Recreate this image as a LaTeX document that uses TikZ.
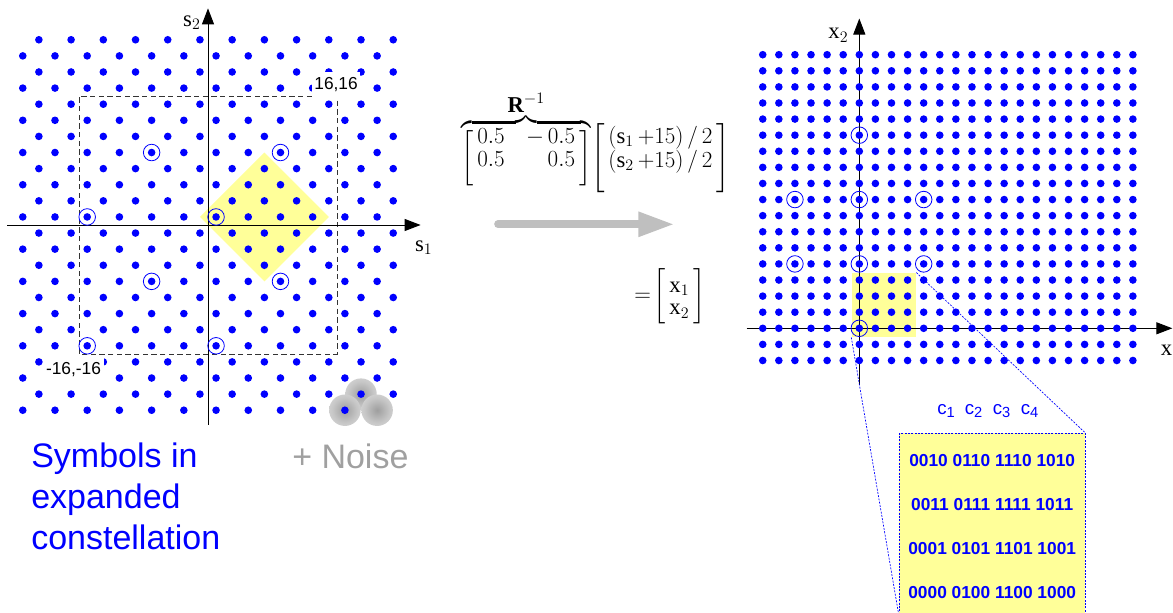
\documentclass[tikz,border=0pt]{standalone}
\usepackage{amsmath}
\usepackage{fontspec}
\setmainfont{Liberation Serif}
\newfontfamily\helv{Liberation Sans}
\usetikzlibrary{arrows.meta}
\definecolor{hiyellow}{RGB}{255,255,153}
\definecolor{noisegray}{RGB}{160,160,160}
\pgfdeclareradialshading{noiseblob}{\pgfpoint{0bp}{0bp}}{color(0bp)=(black!38); color(20bp)=(black!22); color(50bp)=(black!6)}

\begin{document}
\begin{tikzpicture}[x=0.75pt,y=-0.75pt,
  axisline/.style={line width=0.75pt,-{Triangle[length=12pt,width=9pt]}},
  ring/.style={draw=blue,line width=0.6pt},
  zoomline/.style={blue,line width=0.5pt,dash pattern=on 1.5pt off 1pt},
  axislabel/.style={font=\fontsize{17}{20}\selectfont}]
\useasboundingbox (0,0) rectangle (1173,613);

% expanded constellation (s1,s2)
\begin{scope}[shift={(208,225)},x=6.04pt,y=6.04pt]
\fill[hiyellow] (-1,1) -- (7,9) -- (15,1) -- (7,-7) -- cycle;
\draw[line width=0.5pt,black!80,dash pattern=on 4pt off 2.5pt] (-16,-16) rectangle (16,16);
\draw[axisline] (-24.9,0) -- (26.4,0);
\draw[axisline] (0,-24.8) -- (0,26.9);
\foreach \i in {-23,-21,...,23}
  \foreach \j in {-23,-21,...,23}{
    \pgfmathtruncatemacro\r{mod(\i+\j+100,4)}
    \ifnum\r=2 \fill[blue] (\i,\j) circle (2.85pt); \fi
  }
\foreach \p in {(-7,9),(9,9),(-15,1),(1,1),(-7,-7),(9,-7),(-15,-15),(1,-15)}
  \draw[ring] \p circle (6.2pt);
\node[fill=white,inner xsep=2pt,inner ysep=4.5pt,font=\helv\fontsize{13}{14}\selectfont] (ptmax) at (15.9,17.4) {16,16};
\node[fill=white,inner xsep=2pt,inner ysep=4.5pt,font=\helv\fontsize{13}{14}\selectfont] (ptmin) at (-16.7,-18.0) {-16,-16};
\foreach \c in {(19,-21),(17,-23),(21,-23)}
  \shade[shading=noiseblob] \c circle (11.8pt);
\fill[blue] (19,-21) circle (2.85pt);
\fill[blue] (17,-23) circle (2.85pt);
\node[axislabel] (sone) at (26.8,-2.8) {$\mathrm{s}_1$};
\node[axislabel] (stwo) at (-2.0,25.1) {$\mathrm{s}_2$};
\end{scope}

% mapping
\node[anchor=north west,inner sep=0pt,font=\fontsize{17}{17}\selectfont] (mapping) at (461,91)
  {$\overbrace{\left[\begin{array}{@{\,}l@{\hspace{16pt}}r@{\,}}\rule{0pt}{11.75pt}0.5 & -\,0.5\\ 0.5 & 0.5\rule[-16.85pt]{0pt}{16.85pt}\end{array}\right]}^{\textstyle\mathbf{R}^{-1}}
   \!\left[\begin{array}{@{\,}l@{\,}}\rule{0pt}{11.75pt}(\mathrm{s}_1\,{+}15)\,/\,2\\ (\mathrm{s}_2\,{+}15)\,/\,2\rule[-16.85pt]{0pt}{16.85pt}\end{array}\right]$};
\coordinate (mapfrom) at (498,224.3);
\coordinate (mapto) at (674.3,224.3);
\draw[line width=5.75pt,black!25,line cap=round,-{Triangle[length=27pt,width=17.5pt]}] (mapfrom) -- (mapto);
\node[anchor=west,inner sep=0pt,font=\fontsize{17}{17}\selectfont] (result) at (634,296)
  {$=\!\left[\begin{array}{@{\,}l@{\,}}\rule{0pt}{18pt}\mathrm{x}_1\\ \mathrm{x}_2\rule[-7pt]{0pt}{7pt}\end{array}\right]$};

% integer lattice (x1,x2)
\begin{scope}[shift={(859.3,328.3)},x=12.07pt,y=12.07pt]
\node[fill=hiyellow,minimum size=48.3pt,inner sep=0pt] (zone) at (1.52,1.45) {};
\draw[axisline] (-7.0,0) -- (19.45,0);
\draw[axisline] (0,-3.5) -- (0,19.25);
\foreach \i in {-6,...,17}
  \foreach \j in {-2,...,17}
    \fill[blue] (\i,\j) circle (2.85pt);
\foreach \p in {(0,12),(-4,8),(0,8),(4,8),(-4,4),(0,4),(4,4),(0,0)}
  \draw[ring] \p circle (6.2pt);
\node[axislabel] (xone) at (19.35,-1.5) {$\mathrm{x}_1$};
\node[axislabel] (xtwo) at (-1.3,18.2) {$\mathrm{x}_2$};
\end{scope}

% zoomed labels
\node[draw=blue,fill=hiyellow,line width=0.5pt,dash pattern=on 1.5pt off 1pt,minimum width=139.3pt,minimum height=137pt,inner sep=0pt] (bits) at (992.2,524.7) {};
\draw[zoomline] (zone.south west) -- (bits.south west);
\draw[zoomline] (zone.north east) -- (bits.north east);
\foreach \k/\xx in {1/946,2/973.5,3/1001.5,4/1029.5}
  \node[blue,font=\helv\fontsize{14}{16}\selectfont] (col\k) at (\xx,411) {c{\fontsize{11}{11}\selectfont\raisebox{-2.5pt}{\k}}};
\node[blue,font=\helv\bfseries\fontsize{13}{33}\selectfont,align=center] (codes) at (992.2,526.7)
  {0010 0110 1110 1010\\0011 0111 1111 1011\\0001 0101 1101 1001\\0000 0100 1100 1000};

\node[blue,font=\helv\fontsize{25.5}{30.75}\selectfont,align=left,anchor=north west,inner sep=0pt] (caption) at (31,443) {Symbols in\\expanded\\constellation};
\node[noisegray,font=\helv\fontsize{25.5}{30}\selectfont,anchor=west,inner sep=0pt] (noise) at (292,456) {+ Noise};
\end{tikzpicture}
\end{document}
